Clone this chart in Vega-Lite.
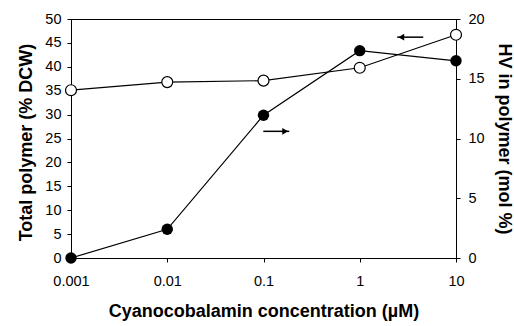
{
  "$schema": "https://vega.github.io/schema/vega-lite/v6.json",
  "width": 385,
  "height": 239,
  "autosize": "none",
  "padding": {"left": 71, "top": 19, "right": 58, "bottom": 68},
  "background": "white",
  "config": {
    "view": {"stroke": "black", "strokeWidth": 1},
    "font": "Liberation Sans",
    "axis": {
      "grid": false,
      "domainColor": "black",
      "tickColor": "black",
      "tickSize": 4,
      "labelFont": "Liberation Sans",
      "labelFontSize": 14.5,
      "labelColor": "black",
      "titleFont": "Liberation Sans",
      "titleFontSize": 18,
      "titleFontWeight": "bold",
      "titleColor": "black"
    }
  },
  "datasets": {
    "main": [
      {"conc": 0.001, "total": 35.1, "hv": 0.0},
      {"conc": 0.01, "total": 36.8, "hv": 2.4},
      {"conc": 0.1, "total": 37.1, "hv": 11.95},
      {"conc": 1, "total": 39.8, "hv": 17.35},
      {"conc": 10, "total": 46.7, "hv": 16.5}
    ],
    "arrowLeft": [{"tail": 4.57, "tip": 2.45, "head": 2.7, "y": 46.2}],
    "arrowRight": [{"tail": 0.0995, "tip": 0.185, "head": 0.168, "y": 10.6}]
  },
  "encoding": {
    "x": {
      "field": "conc",
      "type": "quantitative",
      "scale": {"type": "log", "domain": [0.001, 10]},
      "axis": {
        "values": [0.001, 0.01, 0.1, 1, 10],
        "format": "~g",
        "labelFlush": false,
        "labelOverlap": false,
        "labelPadding": 12,
        "title": "Cyanocobalamin concentration (µM)",
        "titlePadding": 15
      }
    }
  },
  "layer": [
    {
      "layer": [
        {
          "data": {"name": "main"},
          "mark": {"type": "line", "color": "black", "strokeWidth": 1.2},
          "encoding": {"y": {"field": "total", "type": "quantitative"}}
        },
        {
          "data": {"name": "main"},
          "mark": {"type": "point", "shape": "circle", "filled": true, "fill": "white", "stroke": "black", "strokeWidth": 1.2, "size": 120, "opacity": 1},
          "encoding": {"y": {"field": "total", "type": "quantitative"}}
        },
        {
          "data": {"name": "arrowLeft"},
          "mark": {"type": "rule", "color": "black", "strokeWidth": 1.5},
          "encoding": {
            "x": {"field": "tip", "type": "quantitative"},
            "x2": {"field": "tail"},
            "y": {"field": "y", "type": "quantitative"}
          }
        },
        {
          "data": {"name": "arrowLeft"},
          "mark": {"type": "point", "shape": "triangle-left", "filled": true, "color": "black", "size": 45, "opacity": 1},
          "encoding": {
            "x": {"field": "head", "type": "quantitative"},
            "y": {"field": "y", "type": "quantitative"}
          }
        }
      ],
      "encoding": {
        "y": {
          "type": "quantitative",
          "scale": {"domain": [0, 50]},
          "axis": {
            "orient": "left",
            "values": [0, 5, 10, 15, 20, 25, 30, 35, 40, 45, 50],
            "labelPadding": 6,
            "title": "Total polymer (% DCW)",
            "titlePadding": 9,
            "titleY": 123
          }
        }
      }
    },
    {
      "layer": [
        {
          "data": {"name": "main"},
          "mark": {"type": "line", "color": "black", "strokeWidth": 1.2},
          "encoding": {"y": {"field": "hv", "type": "quantitative"}}
        },
        {
          "data": {"name": "main"},
          "mark": {"type": "circle", "color": "black", "size": 130, "opacity": 1},
          "encoding": {"y": {"field": "hv", "type": "quantitative"}}
        },
        {
          "data": {"name": "arrowRight"},
          "mark": {"type": "rule", "color": "black", "strokeWidth": 1.5},
          "encoding": {
            "x": {"field": "tail", "type": "quantitative"},
            "x2": {"field": "tip"},
            "y": {"field": "y", "type": "quantitative"}
          }
        },
        {
          "data": {"name": "arrowRight"},
          "mark": {"type": "point", "shape": "triangle-right", "filled": true, "color": "black", "size": 45, "opacity": 1},
          "encoding": {
            "x": {"field": "head", "type": "quantitative"},
            "y": {"field": "y", "type": "quantitative"}
          }
        }
      ],
      "encoding": {
        "y": {
          "type": "quantitative",
          "scale": {"domain": [0, 20]},
          "axis": {
            "orient": "right",
            "values": [0, 5, 10, 15, 20],
            "labelPadding": 8,
            "title": "HV in polymer (mol %)",
            "titlePadding": 10
          }
        }
      }
    }
  ],
  "resolve": {"scale": {"y": "independent"}, "axis": {"y": "independent"}}
}
